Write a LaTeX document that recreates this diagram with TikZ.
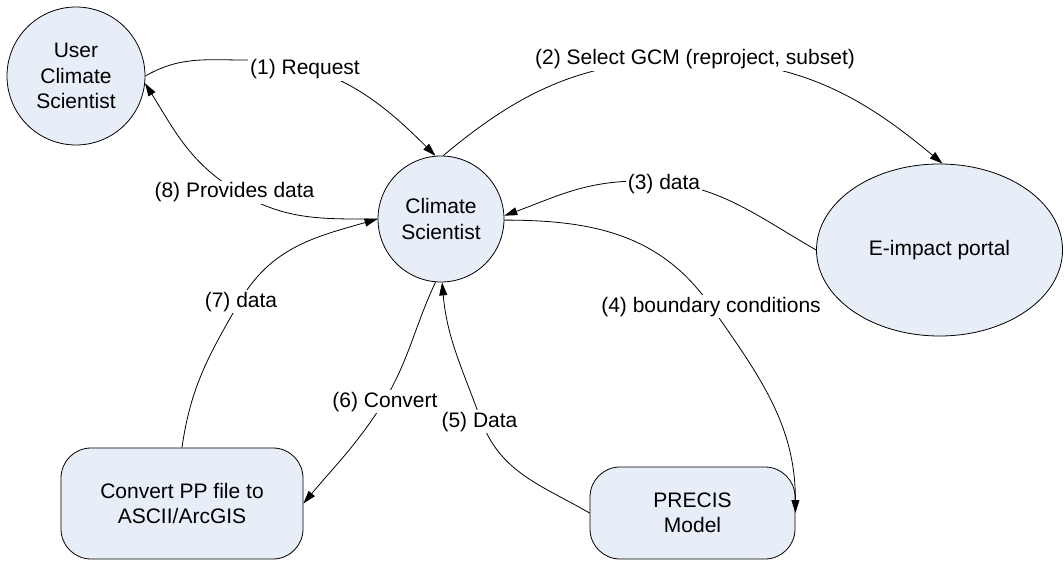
\documentclass[tikz,border=0pt]{standalone}
\usepackage{fontspec}
\setmainfont{Liberation Sans}
\usetikzlibrary{arrows.meta,shapes.geometric}
\definecolor{nodefill}{HTML}{E8EEF7}
\begin{document}
\begin{tikzpicture}[x=1pt,y=1pt,
  every node/.style={font=\fontsize{21}{25.5}\selectfont},
  proc/.style={circle,draw=black,line width=0.8pt,fill=nodefill,align=center,inner sep=0pt},
  store/.style={ellipse,draw=black,line width=0.8pt,fill=nodefill,align=center,inner sep=0pt},
  task/.style={rectangle,rounded corners=30pt,draw=black,line width=0.8pt,fill=nodefill,align=center,inner sep=0pt},
  arr/.style={-{Triangle[length=13pt,width=8pt]},line width=0.8pt},
  lbl/.style={fill=white,inner sep=2pt,anchor=base}
]
\useasboundingbox (0,0) rectangle (1064,-561);

% main nodes
\node[proc,minimum size=138pt] (user) at (76,-76) {User\\Climate\\Scientist};
\node[proc,minimum size=126pt] (cs) at (441,-219) {Climate\\Scientist};
\node[store,minimum width=246pt,minimum height=172pt] (ei) at (939.5,-250) {E-impact portal};
\node[task,minimum width=242pt,minimum height=111pt] (conv) at (182,-503.5) {Convert PP file to\\ASCII/ArcGIS};
\node[task,minimum width=205pt,minimum height=92pt] (prec) at (692.5,-513) {PRECIS\\Model};

% points the connectors pass through (hidden under labels)
\coordinate (p1) at (245,-60);
\coordinate (p2) at (690,-60);
\coordinate (p3) at (640,-181);
\coordinate (p4) at (710,-305);
\coordinate (p5) at (481,-420);
\coordinate (p6) at (385,-400);
\coordinate (p7) at (240,-301);
\coordinate (p8) at (238,-192);

% connectors
\draw[arr] (user.0) to[out=30,in=180] (p1) to[out=0,in=135] (cs.95);
\draw[arr] (cs.88) to[out=40,in=180] (p2) to[out=0,in=140] (ei.88);
\draw[arr] (ei.west) to[out=150,in=0] (p3) to[out=180,in=20] (cs.3);
\draw[arr] (cs.-1) to[out=0,in=125] (p4) to[out=-55,in=90] (prec.east);
\draw[arr] (prec.west) to[out=150,in=-70] (p5) to[out=110,in=-85] (cs.-89);
\draw[arr] (cs.-95) to[out=-115,in=60] (p6) to[out=-122,in=50] (conv.east);
\draw[arr] (conv.north) to[out=82,in=-120] (p7) to[out=60,in=-164] (cs.west);
\draw[arr] (cs.west) to[out=180,in=-31] (p8) to[out=149,in=-58] (user.-6);

% labels
\node[lbl] (l1) at (305,-75) {(1) Request};
\node[lbl] (l2) at (695,-65) {(2) Select GCM (reproject, subset)};
\node[lbl] (l3) at (664,-190) {(3) data};
\node[lbl] (l4) at (711,-312) {(4) boundary conditions};
\node[lbl] (l5) at (479.5,-427) {(5) Data};
\node[lbl] (l6) at (385,-407) {(6) Convert};
\node[lbl] (l7) at (241,-307) {(7) data};
\node[lbl] (l8) at (234.5,-198) {(8) Provides data};
\end{tikzpicture}
\end{document}
